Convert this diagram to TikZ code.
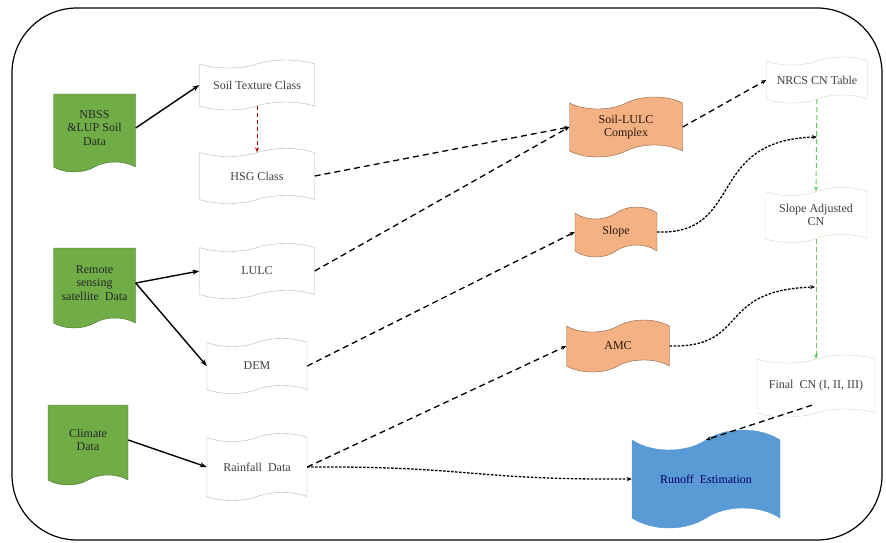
\documentclass[tikz,border=0pt]{standalone}
\usepackage{fontspec}
\setmainfont{Liberation Serif}
\usetikzlibrary{shapes.symbols,arrows.meta}
\definecolor{srcgreen}{RGB}{112,173,71}
\definecolor{midorange}{RGB}{244,177,131}
\definecolor{outblue}{RGB}{91,155,213}
\definecolor{cngreen}{RGB}{200,222,185}

\begin{document}
\begin{tikzpicture}[x=1pt,y=-1pt,
  font=\fontsize{12}{13.5}\selectfont,
  wave/.style = {draw, tape, align=center, inner sep=1pt},
  src/.style = {wave, tape bend top=none, fill=srcgreen, draw=srcgreen!65!black, tape bend height=10pt, text=black!85},
  plain/.style = {wave, draw=gray!60, fill=white, tape bend height=8pt, text=black!75},
  mid/.style = {wave, fill=midorange, draw=midorange!55!black, tape bend height=12pt, text=black!80!brown},
  cn/.style = {wave, draw=cngreen, tape bend height=8pt, text=black!75},
  solid arrow/.style = {-{Stealth[length=7pt,width=5pt]}, line width=1.4pt},
  dash arrow/.style = {-{Stealth[length=5pt,width=4pt]}, line width=1.3pt, dash pattern=on 6pt off 4pt},
  dot arrow/.style = {-{Stealth[length=5pt,width=4pt]}, line width=1.3pt, dash pattern=on 2.5pt off 1.5pt}]
  \useasboundingbox (0,0) rectangle (886,542);
  \draw[line width=1.2pt, rounded corners=65pt] (12,8) rectangle (882,540);

  % data sources
  \node[src, minimum width=82pt, minimum height=78pt] (nbss) at (94.5,128) {NBSS\\\&LUP Soil\\Data};
  \node[src, minimum width=82pt, minimum height=80pt] (remote) at (94.5,283) {Remote\\sensing\\satellite\ \ Data};
  \node[src, minimum width=80pt, minimum height=80pt] (climate) at (88,440) {Climate\\Data};

  % derived layers
  \node[plain, minimum width=115pt, minimum height=50pt] (soiltex) at (257,85) {Soil Texture Class};
  \node[plain, minimum width=115pt, minimum height=55pt] (hsg) at (257,176) {HSG Class};
  \node[plain, minimum width=115pt, minimum height=55pt] (lulc) at (257,271) {LULC};
  \node[plain, minimum width=100pt, minimum height=55pt] (dem) at (257,366) {DEM};
  \node[plain, minimum width=100pt, minimum height=67pt] (rain) at (257,467) {Rainfall\ \ Data};

  \node[mid, minimum width=113pt, minimum height=60pt] (complex) at (626,127) {Soil-LULC\\Complex};
  \node[mid, minimum width=82pt, minimum height=50pt] (slope) at (616,232) {Slope};
  \node[mid, minimum width=103pt, minimum height=52pt] (amc) at (618,346) {AMC};
  \node[wave, fill=outblue, draw=outblue, tape bend height=20pt, text=blue!40!black, minimum width=148pt, minimum height=98pt] (runoff) at (706,479) {Runoff\ \ Estimation};

  \node[cn, minimum width=101pt, minimum height=46pt] (nrcs) at (817,80) {NRCS CN Table};
  \node[cn, minimum width=102pt, minimum height=55pt] (slopeadj) at (816,215) {Slope Adjusted\\CN};
  \node[cn, minimum width=118pt, minimum height=62pt] (final) at (816,386) {Final\ \ CN (I, II, III)};

  \coordinate (slopein) at (817,137);
  \coordinate (amcin) at (815,287);

  % inputs
  \draw[solid arrow] (nbss.east) -- (soiltex.west);
  \draw[solid arrow] (remote.east) -- (lulc.west);
  \draw[solid arrow] (remote.east) -- (dem.west);
  \draw[solid arrow] (climate.east) -- (rain.west);
  \draw[dash arrow, red!70!black, dash pattern=on 4pt off 3pt, line width=1pt] (soiltex.south) -- (hsg.north);

  % processing
  \draw[dash arrow] (hsg.east) -- (complex.west);
  \draw[dash arrow] (lulc.east) -- (complex.west);
  \draw[dash arrow] (dem.east) -- (slope.west);
  \draw[dash arrow] (rain.east) -- (amc.west);
  \draw[dot arrow] (rain.east) .. controls (470,466) and (470,480) .. (runoff.west);
  \draw[dash arrow] (complex.east) -- (nrcs.west);
  \draw[dot arrow] (slope.east) .. controls (745,235) and (705,140) .. (slopein);
  \draw[dot arrow] (amc.east) .. controls (750,348) and (715,290) .. (amcin);
  \draw[dash arrow, green!60!black!60, line width=1pt, dash pattern=on 5pt off 3pt] (nrcs.south) -- (slopeadj.north);
  \draw[dash arrow, green!60!black!60, line width=1pt, dash pattern=on 5pt off 3pt] (slopeadj.south) -- (final.north);
  \draw[dash arrow] (final.south) ++(-4,-8) coordinate (finalout) -- (runoff.north);
\end{tikzpicture}
\end{document}
